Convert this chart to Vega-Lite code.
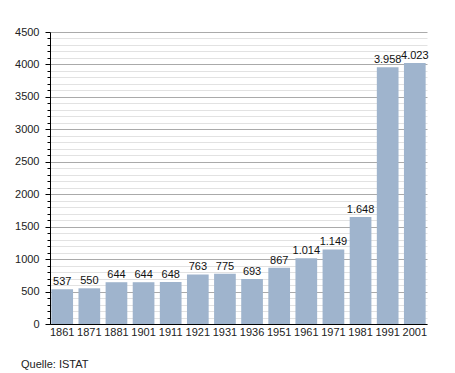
{
  "$schema": "https://vega.github.io/schema/vega-lite/v6.json",
  "width": 377,
  "height": 292,
  "autosize": {"type": "none"},
  "padding": {"left": 50, "top": 32, "right": 28, "bottom": 49},
  "background": "white",
  "config": {
    "view": {"stroke": null},
    "font": "Liberation Sans",
    "locale": {"number": {"decimal": ",", "thousands": ".", "grouping": [3], "currency": ["", " €"]}}
  },
  "title": {
    "text": "Quelle: ISTAT",
    "orient": "bottom",
    "anchor": "start",
    "frame": "group",
    "dx": -29,
    "offset": 22,
    "fontSize": 11,
    "fontWeight": "normal",
    "color": "#222"
  },
  "data": {
    "values": [
      {"year": "1861", "pop": 537},
      {"year": "1871", "pop": 550},
      {"year": "1881", "pop": 644},
      {"year": "1901", "pop": 644},
      {"year": "1911", "pop": 648},
      {"year": "1921", "pop": 763},
      {"year": "1931", "pop": 775},
      {"year": "1936", "pop": 693},
      {"year": "1951", "pop": 867},
      {"year": "1961", "pop": 1014},
      {"year": "1971", "pop": 1149},
      {"year": "1981", "pop": 1648},
      {"year": "1991", "pop": 3958},
      {"year": "2001", "pop": 4023}
    ]
  },
  "encoding": {
    "x": {
      "field": "year",
      "type": "ordinal",
      "sort": null,
      "scale": {"paddingInner": 0.2, "paddingOuter": 0.05},
      "axis": {
        "title": null,
        "labelAngle": 0,
        "ticks": false,
        "domainColor": "#000",
        "domainWidth": 1,
        "labelFontSize": 11,
        "labelColor": "#222",
        "labelPadding": 2
      }
    },
    "y": {
      "field": "pop",
      "type": "quantitative",
      "scale": {"domain": [0, 4500], "nice": false},
      "axis": {
        "title": null,
        "values": [0,100,200,300,400,500,600,700,800,900,1000,1100,1200,1300,1400,1500,1600,1700,1800,1900,2000,2100,2200,2300,2400,2500,2600,2700,2800,2900,3000,3100,3200,3300,3400,3500,3600,3700,3800,3900,4000,4100,4200,4300,4400,4500],
        "labelExpr": "datum.value % 500 === 0 ? format(datum.value, 'd') : ''",
        "labelOverlap": false,
        "labelFontSize": 11,
        "labelColor": "#222",
        "labelPadding": 6,
        "domainColor": "#000",
        "tickColor": "#000",
        "tickSize": {"condition": {"test": "datum.value % 500 === 0", "value": 5}, "value": 3},
        "grid": true,
        "gridColor": {"condition": {"test": "datum.value % 500 === 0", "value": "#aaaaaa"}, "value": "#e2e2e2"},
        "gridOpacity": 1
      }
    }
  },
  "layer": [
    {"mark": {"type": "bar", "color": "#9fb4cd"}},
    {
      "mark": {"type": "text", "baseline": "bottom", "dy": -2, "fontSize": 11, "color": "#111"},
      "encoding": {"text": {"field": "pop", "type": "quantitative", "format": ",d"}}
    }
  ]
}
